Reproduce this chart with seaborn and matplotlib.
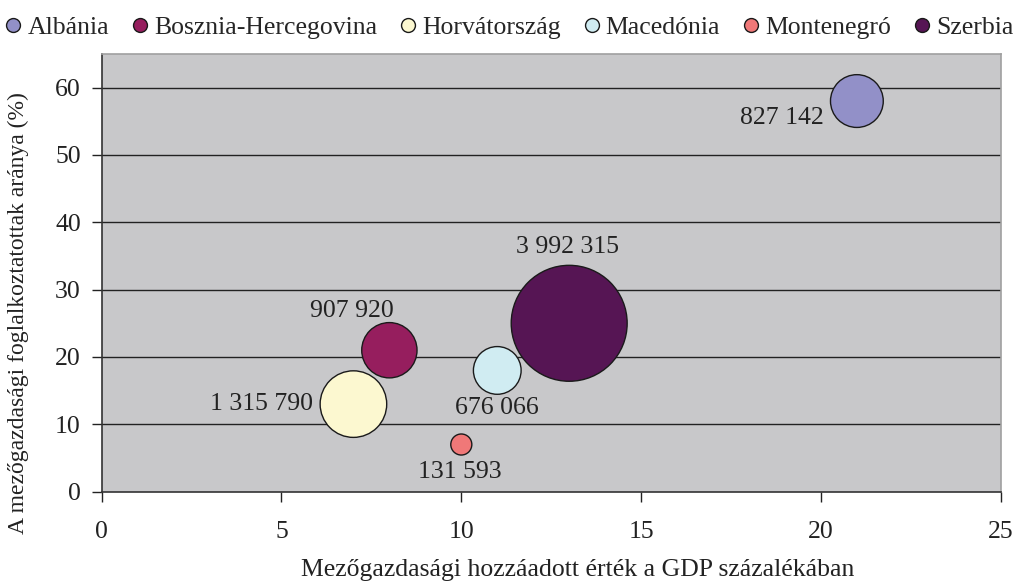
import matplotlib
matplotlib.use("Agg")
import matplotlib.pyplot as plt
import seaborn as sns
import pandas as pd
from matplotlib.lines import Line2D

countries = ["Albánia", "Bosznia-Hercegovina", "Horvátország", "Macedónia", "Montenegró", "Szerbia"]
gdp_share = [21, 8, 7, 11, 10, 13]
employment_share = [58, 21, 13, 18, 7, 25]
population = [827142, 907920, 1315790, 676066, 131593, 3992315]
labels = ["827 142", "907 920", "1 315 790", "676 066", "131 593", "3 992 315"]
colors = ["#9290C8", "#961E5E", "#FCF8D0", "#D0ECF2", "#F07878", "#561554"]
# label offsets (points) relative to bubble center
offsets = [(-54, -12), (-27, 28), (-66, 0), (0, -27), (-1, -20), (-1, 55)]

df = pd.DataFrame({"country": countries, "x": gdp_share, "y": employment_share, "pop": population})

sns.set_style("white")
plt.rcParams["font.family"] = ["Liberation Serif", "DejaVu Serif"]

FS = 18.5
fig = plt.figure(figsize=(10.2, 5.86), dpi=100)
ax = fig.add_axes([0.0997, 0.161, 0.8814, 0.747])
ax.set_facecolor("#C8C8CA")

k = 6970 / 3992315
size_map = {p: p * k for p in population}
palette = dict(zip(countries, colors))

for y in range(10, 70, 10):
    ax.axhline(y, color="#222222", lw=1.0, zorder=1)

sns.scatterplot(data=df, x="x", y="y", hue="country", palette=palette,
                size="pop", sizes=size_map, edgecolor="#1a1a1a", linewidth=1.0,
                alpha=1, legend=False, ax=ax, zorder=3)

for xi, yi, lab, off in zip(gdp_share, employment_share, labels, offsets):
    ax.annotate(lab, (xi, yi), xytext=off, textcoords="offset points",
                ha="center", va="center", fontsize=FS, color="#222222", zorder=4)

ax.set_xlim(0, 25)
ax.set_ylim(0, 65)
ax.set_xticks(range(0, 26, 5))
ax.set_yticks(range(0, 61, 10))
ax.tick_params(axis="both", labelsize=FS, colors="#222222", length=7, width=1, direction="out")
ax.tick_params(axis="x", pad=14)
ax.tick_params(axis="y", pad=8)
ax.xaxis.set_ticks_position("bottom")
ax.yaxis.set_ticks_position("left")
for s in ["left", "bottom"]:
    ax.spines[s].set_color("#333333")
    ax.spines[s].set_linewidth(1.2)
for s in ["top", "right"]:
    ax.spines[s].set_color("#A0A0A0")
    ax.spines[s].set_linewidth(1.2)

ax.set_xlabel("")
ax.set_ylabel("")
fig.text(578 / 1020, 1 - 570 / 586, "Mezőgazdasági hozzáadott érték a GDP százalékában", fontsize=FS,
         color="#222222", ha="center", va="center")
fig.text(18 / 1020, 1 - 313 / 586, "A mezőgazdasági foglalkoztatottak aránya (%)", fontsize=17,
         color="#222222", ha="center", va="center", rotation=90)

handles = [Line2D([0], [0], marker="o", linestyle="", markerfacecolor=c, markeredgecolor="#1a1a1a",
                  markersize=10, markeredgewidth=1) for c in colors]
fig.legend(handles, countries, loc="upper center", bbox_to_anchor=(0.497, 1.012), ncol=6, frameon=False,
           fontsize=FS, handletextpad=0.05, columnspacing=0.7, handlelength=1.0)

fig.savefig("out.png", dpi=100)
